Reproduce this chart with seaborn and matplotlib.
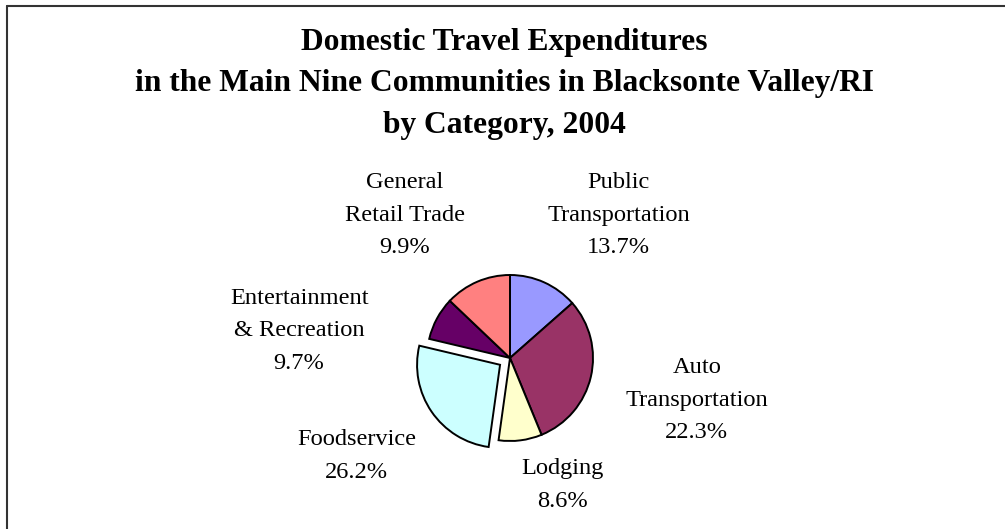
import matplotlib
matplotlib.use("Agg")
import matplotlib.pyplot as plt
from matplotlib.lines import Line2D
import seaborn as sns

sns.set_theme(style="white")
plt.rcParams['font.family'] = ['Liberation Serif', 'DejaVu Serif']

# Slices, clockwise from 12 o'clock
categories = ['Public\nTransportation', 'Auto\nTransportation', 'Lodging',
              'Foodservice', 'Entertainment\n& Recreation', 'General\nRetail Trade']
# slice shares as drawn in the picture
shares = [13.5, 30.3, 8.4, 26.5, 8.4, 12.9]
# percentages printed on the labels
label_pct = ['13.7%', '22.3%', '8.6%', '26.2%', '9.7%', '9.9%']
colors = ['#9999FF', '#993366', '#FFFFCC', '#CCFFFF', '#660066', '#FF8080']
explode = [0, 0, 0, 0.145, 0, 0]

# label centres (in pie radius units, pie centre = 0,0)
label_xy = [(1.31, 1.72), (2.25, -0.51), (0.63, -1.53),
            (-1.85, -1.18), (-2.54, 0.33), (-1.27, 1.72)]

W, H = 1005, 529
cx, cy, r = 510, 358, 83  # pie centre and radius, pixels

fig = plt.figure(figsize=(W / 100, H / 100), dpi=100)
ax = fig.add_axes([0, 0, 1, 1])

ax.pie(shares, colors=colors, explode=explode, startangle=90, counterclock=False,
       wedgeprops=dict(edgecolor='black', linewidth=1.4))

for name, pct, (x, y) in zip(categories, label_pct, label_xy):
    ax.text(x, y, name + '\n' + pct, ha='center', va='center',
            fontsize=17.6, linespacing=1.72, color='black')

ax.set_xlim(-cx / r, (W - cx) / r)
ax.set_ylim((cy - H) / r, cy / r)
ax.axis('off')

fig.text(0.502, 1 - 84 / H,
         'Domestic Travel Expenditures\n'
         'in the Main Nine Communities in Blacksonte Valley/RI\n'
         'by Category, 2004',
         ha='center', va='center', fontsize=22.7, fontweight='bold',
         linespacing=1.57, color='black')

# chart frame (only top and left edges fall inside the image)
fig.add_artist(Line2D([7 / W, 1.0], [1 - 6 / H, 1 - 6 / H], color='#333333', lw=1.5))
fig.add_artist(Line2D([7 / W, 7 / W], [0.0, 1 - 6 / H], color='#333333', lw=1.5))

fig.savefig('out.png', dpi=100)
